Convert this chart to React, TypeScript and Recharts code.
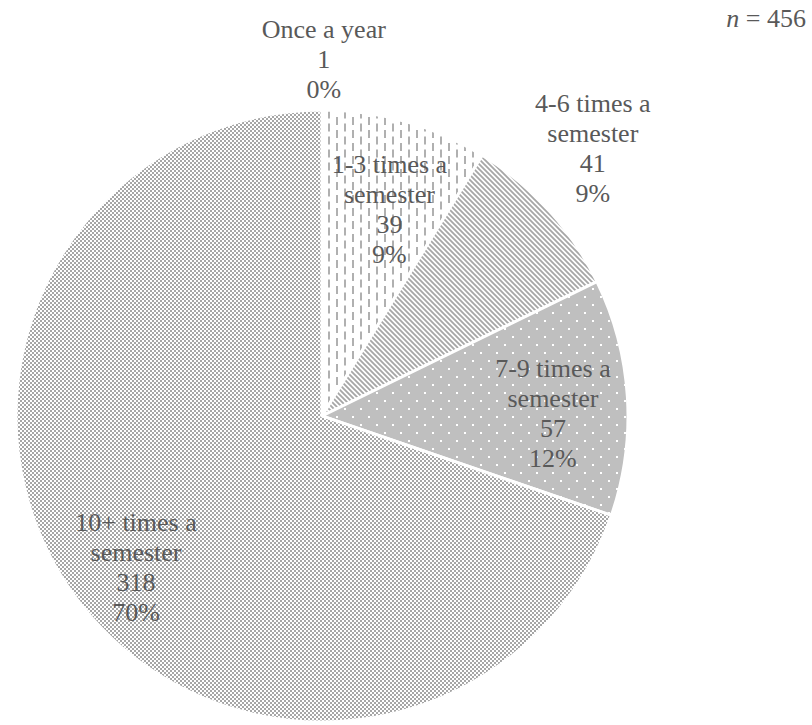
import React from 'react';
import { PieChart, Pie, Cell } from 'recharts';

// Visit frequency categories (line breaks mark how each label wraps)
const categories = [
  'Once a year',
  '1-3 times a\nsemester',
  '4-6 times a\nsemester',
  '7-9 times a\nsemester',
  '10+ times a\nsemester',
];
const counts = [1, 39, 41, 57, 318];
const sampleSize = 456;

// Fill pattern used for each slice
const sliceFills = ['#ffffff', 'url(#dashV)', 'url(#diagDown)', 'url(#dotGrid)', 'url(#checker)'];

// Where each data label sits: radius as a share of the pie radius and a small turn (degrees) off the slice's mid angle
const labelPlacement = [
  { radius: 1.137, turn: 0.1 },
  { radius: 0.684, turn: -2.6 },
  { radius: 1.225, turn: 1.5 },
  { radius: 0.755, turn: -5.0 },
  { radius: 0.802, turn: 5.2 },
];

const data = categories.map((name, i) => ({ name, value: counts[i] }));
const total = counts.reduce((a, b) => a + b, 0);

// Round half to even, as the percentages are shown
const roundHalfEven = (x: number) => {
  const f = Math.floor(x);
  const diff = x - f;
  if (Math.abs(diff - 0.5) < 1e-9) return f % 2 === 0 ? f : f + 1;
  return Math.round(x);
};

const TEXT_COLOR = '#595959';
const FONT = "'Liberation Serif', 'Times New Roman', Times, Tinos, 'DejaVu Serif', serif";
const FONT_SIZE = 26;
const LINE_GAP = 30;

const RADIAN = Math.PI / 180;

const textStyle: React.CSSProperties = { fontFamily: FONT, fontSize: FONT_SIZE };

const renderLabel = (props: any) => {
  const { cx, cy, midAngle, outerRadius, index } = props;
  const place = labelPlacement[index];
  const angle = midAngle + place.turn;
  const r = outerRadius * place.radius;
  const x = cx + Math.cos(-angle * RADIAN) * r;
  const y = cy + Math.sin(-angle * RADIAN) * r;
  const lines = [
    ...categories[index].split('\n'),
    String(counts[index]),
    `${roundHalfEven((counts[index] / total) * 100)}%`,
  ];
  const n = lines.length;
  return (
    <text key={`lbl-${index}`} x={x} y={y} textAnchor="middle" fill={TEXT_COLOR} style={textStyle}>
      {lines.map((line, i) => (
        <tspan key={i} x={x} y={y + (i - (n - 1) / 2) * LINE_GAP}>
          {line}
        </tspan>
      ))}
    </text>
  );
};

export default function App() {
  return (
    <div style={{ position: 'absolute', left: 0, top: 0, width: 812, height: 725, background: '#fff' }}>
      <svg width={0} height={0} style={{ position: 'absolute' }}>
        <defs>
          <pattern id="checker" patternUnits="userSpaceOnUse" width={4} height={4}>
            <rect width={4} height={4} fill="#ffffff" />
            <rect x={0} y={0} width={2} height={2} fill="#a6a6a6" />
            <rect x={2} y={2} width={2} height={2} fill="#a6a6a6" />
          </pattern>
          <pattern id="dashV" patternUnits="userSpaceOnUse" width={16} height={13}>
            <rect width={16} height={13} fill="#ffffff" />
            <rect x={0} y={0} width={2} height={8} fill="#b0b0b0" />
            <rect x={8} y={6.5} width={2} height={8} fill="#b0b0b0" />
            <rect x={8} y={-6.5} width={2} height={8} fill="#b0b0b0" />
          </pattern>
          <pattern id="diagDown" patternUnits="userSpaceOnUse" width={5} height={5}>
            <rect width={5} height={5} fill="#ffffff" />
            <path d="M-1,-1 L6,6 M-1,4 L1,6 M4,-1 L6,1" stroke="#a6a6a6" strokeWidth={1.8} />
          </pattern>
          <pattern id="dotGrid" patternUnits="userSpaceOnUse" width={16} height={16}>
            <rect width={16} height={16} fill="#bfbfbf" />
            <rect x={0} y={0} width={2} height={2} fill="#ffffff" />
            <rect x={8} y={8} width={2} height={2} fill="#ffffff" />
          </pattern>
        </defs>
      </svg>
      <PieChart width={812} height={725} margin={{ top: 0, right: 0, bottom: 0, left: 0 }}>
        <Pie
          data={data}
          dataKey="value"
          nameKey="name"
          cx={322}
          cy={416}
          outerRadius={306}
          startAngle={90}
          endAngle={-270}
          stroke="#ffffff"
          strokeWidth={3}
          label={renderLabel}
          labelLine={false}
          isAnimationActive={false}
        >
          {data.map((d, i) => (
            <Cell key={d.name} fill={sliceFills[i]} />
          ))}
        </Pie>
      </PieChart>
      <svg width={812} height={725} style={{ position: 'absolute', left: 0, top: 0, pointerEvents: 'none' }}>
        <text x={806} y={27} textAnchor="end" fill={TEXT_COLOR} style={textStyle}>
          <tspan fontStyle="italic">n</tspan>
          <tspan>{` = ${sampleSize}`}</tspan>
        </text>
      </svg>
    </div>
  );
}
